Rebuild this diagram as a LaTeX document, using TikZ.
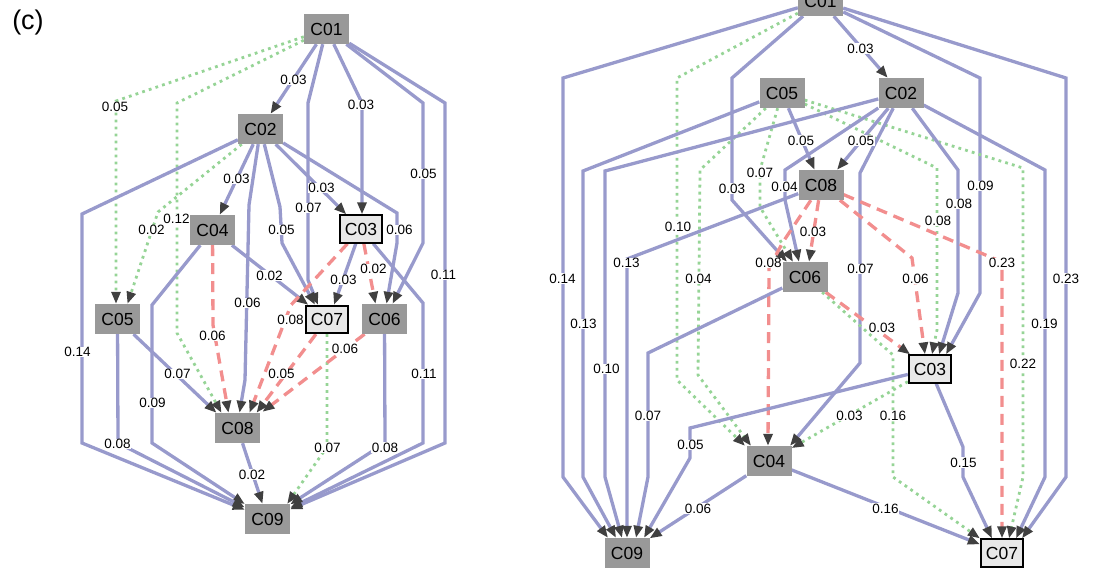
\documentclass[tikz,border=0pt]{standalone}
\usepackage{fontspec}
\setmainfont{Liberation Sans}
\usetikzlibrary{arrows.meta}
\pgfdeclarelayer{edgelayer}
\pgfdeclarelayer{labellayer}
\pgfsetlayers{edgelayer,labellayer,main}
\definecolor{eblue}{RGB}{152,154,204}
\definecolor{egreen}{RGB}{150,212,150}
\definecolor{ered}{RGB}{242,142,142}
\definecolor{agray}{RGB}{64,64,64}
\definecolor{ngray}{RGB}{153,153,153}
\definecolor{nlight}{RGB}{232,232,232}
\begin{document}
\begin{tikzpicture}[x=1pt,y=-1pt,
 >={Triangle[length=12pt,width=9pt,color=agray,fill=agray]},
 gnode/.style={rectangle,fill=ngray,minimum width=45pt,minimum height=30pt,inner sep=0pt,font=\fontsize{17.5pt}{20pt}\selectfont},
 wnode/.style={gnode,fill=nlight,draw=black,line width=1.8pt,minimum width=42.5pt,minimum height=27.5pt},
 soledge/.style={draw=eblue,line width=3.3pt,->},
 dotedge/.style={draw=egreen,line width=2.8pt,dash pattern=on 2.8pt off 4.2pt,->},
 dshedge/.style={draw=ered,line width=3.3pt,dash pattern=on 11pt off 7pt,->},
 lab/.style={fill=white,inner sep=0.6pt,font=\fontsize{13.5pt}{16pt}\selectfont}
]
\useasboundingbox (0,0) rectangle (1109,575);
\node[font=\fontsize{27pt}{30pt}\selectfont] (title) at (28,23) {(c)};

% ---------- left graph nodes
\node[gnode] (L01) at (326.5,29) {C01};
\node[gnode] (L02) at (260.5,129) {C02};
\node[wnode] (L03) at (361,229) {C03};
\node[gnode] (L04) at (212.5,230) {C04};
\node[gnode] (L05) at (117.5,319) {C05};
\node[gnode] (L06) at (384.5,319) {C06};
\node[wnode] (L07) at (327,319.5) {C07};
\node[gnode] (L08) at (237.5,428) {C08};
\node[gnode] (L09) at (267.5,519) {C09};

% ---------- right graph nodes
\node[gnode] (R01) at (820.5,1) {C01};
\node[gnode] (R02) at (901,93) {C02};
\node[wnode] (R03) at (930,369) {C03};
\node[gnode] (R04) at (769,461) {C04};
\node[gnode] (R05) at (782,93) {C05};
\node[gnode] (R06) at (805,277) {C06};
\node[wnode] (R07) at (1002,553) {C07};
\node[gnode] (R08) at (821,185) {C08};
\node[gnode] (R09) at (627,553) {C09};

\begin{pgfonlayer}{edgelayer}
% left edges
\draw[soledge] (L01) -- (L02);
\draw[dotedge] (L01) -- (116,101) -- ([xshift=-1.5pt]L05.north);
\draw[dotedge] (L01) -- (177,103) -- (177,333) -- ([xshift=-16pt]L08.north);
\draw[soledge] (L01) -- (308,103) -- (308,280) -- ([xshift=-9pt]L07.north);
\draw[soledge] (L01) -- (362,103) -- ([xshift=1pt]L03.north);
\draw[soledge] (L01) -- (423,103) -- (423,243) -- ([xshift=8pt]L06.north);
\draw[soledge] (L01) -- (445,103) -- (445,443) -- (L09);

\draw[soledge] (L02) -- (82,214) -- (82,443) -- (L09);
\draw[dotedge] (L02) -- (158,212) -- ([xshift=10pt]L05.north);
\draw[soledge] (L02) -- (L04);
\draw[soledge] (L02) -- (249,205) -- (245,380) -- ([xshift=2pt]L08.north);
\draw[soledge] (L02) -- (280,207) -- (282,243) -- ([xshift=-12pt]L07.north);
\draw[soledge] (L02) -- (L03);
\draw[soledge] (L02) -- (397,213) -- (397,243) -- ([xshift=2pt]L06.north);

\draw[dshedge] (L04) -- (213,325) -- ([xshift=-9pt]L08.north);
\draw[soledge] (L04) -- (152,305) -- (152,443) -- (L09);
\draw[soledge] (L04) -- (L07);

\draw[dshedge] (L03) -- (291,305) -- ([xshift=12pt]L08.north);
\draw[soledge] (L03) -- ([xshift=7pt]L07.north);
\draw[dshedge] (L03) -- ([xshift=-9pt]L06.north);
\draw[soledge] (L03) -- (423,303) -- (423,443) -- (L09);

\draw[soledge] (L05) -- ([xshift=-21pt]L08.north);
\draw[soledge] (L05) -- (118,443) -- (L09);
\draw[dshedge] (L07) -- ([xshift=19pt]L08.north);
\draw[dotedge] (L07) -- (327,447) -- ([xshift=-3pt]L09.north east);
\draw[dshedge] (L06) -- ([xshift=25pt,yshift=1pt]L08.north);
\draw[soledge] (L06) -- (385,443) -- (L09);
\draw[soledge] (L08) -- (L09);

% right edges
\draw[soledge] (R01) -- (R02);
\draw[soledge] (R01) -- (563,78) -- (563,477) -- ([xshift=-19pt]R09.north);
\draw[dotedge] (R01) -- (677,78) -- (677,380) -- ([xshift=-24pt]R04.north);
\draw[soledge] (R01) -- (732,78) -- (732,200) -- ([xshift=-18pt]R06.north);
\draw[soledge] (R01) -- (980,78) -- (980,293) -- ([xshift=16pt]R03.north);
\draw[soledge] (R01) -- (1066,78) -- (1066,477) -- ([xshift=20pt]R07.north);

\draw[soledge] (R05) -- (R08);
\draw[soledge] (R05) -- (583,171) -- (583,477) -- ([xshift=-11pt]R09.north);
\draw[dotedge] (R05) -- (700,170) -- (698,375) -- ([xshift=-18pt]R04.north);
\draw[dotedge] (R05) -- (760,170) -- (760,207) -- ([xshift=-12pt]R06.north);
\draw[dotedge] (R05) -- (937,168) -- (937,330) -- ([xshift=2pt]R03.north);
\draw[dotedge] (R05) -- (1023,168) -- (1023,477) -- ([xshift=7pt]R07.north);

\draw[soledge] (R02) -- (605,171) -- (605,477) -- ([xshift=-5pt]R09.north);
\draw[soledge] (R02) -- ([xshift=16pt]R08.north);
\draw[soledge] (R02) -- (785,170) -- (785,200) -- ([xshift=-6pt]R06.north);
\draw[soledge] (R02) -- (860,173) -- (860,363) -- ([xshift=21pt]R04.north);
\draw[soledge] (R02) -- (958,170) -- (958,293) -- ([xshift=9pt]R03.north);
\draw[soledge] (R02) -- (1045,170) -- (1045,477) -- ([xshift=14pt]R07.north);

\draw[soledge] (R08) -- (627,259) -- (R09.north);
\draw[dshedge] (R08) -- ([xshift=4pt]R06.north);
\draw[dshedge] (R08) -- (783,242) -- (769,268) -- ([xshift=-1pt]R04.north);
\draw[dshedge] (R08) -- (912,258) -- (917,295) -- ([xshift=-5pt]R03.north);
\draw[dshedge] (R08) -- (1002,262) -- (R07.north);

\draw[soledge] (R06) -- (648,353) -- (648,477) -- ([xshift=9pt]R09.north);
\draw[dshedge] (R06) -- (R03);
\draw[dotedge] (R06) -- (893,355) -- (893,477) -- (R07.north west);

\draw[soledge] (R03) -- (690,428) -- (690,458) -- ([xshift=17pt]R09.north);
\draw[dotedge] (R03) -- (R04);
\draw[soledge] (R03) -- (963,447) -- (963,477) -- ([xshift=-10pt]R07.north);

\draw[soledge] (R04) -- (R09);
\draw[soledge] (R04) -- (R07);
\end{pgfonlayer}

\begin{pgfonlayer}{labellayer}
% left labels
\node[lab] (a01) at (293.5,80) {0.03};
\node[lab] (a02) at (115,107) {0.05};
\node[lab] (a03) at (176.5,219) {0.12};
\node[lab] (a04) at (308.5,208) {0.07};
\node[lab] (a05) at (361,105) {0.03};
\node[lab] (a06) at (423.5,174) {0.05};
\node[lab] (a07) at (443.5,275) {0.11};
\node[lab] (a08) at (77.5,352) {0.14};
\node[lab] (a09) at (151.5,230) {0.02};
\node[lab] (a10) at (236.5,179) {0.03};
\node[lab] (a11) at (247.5,303) {0.06};
\node[lab] (a12) at (281.5,230) {0.05};
\node[lab] (a13) at (321.5,188) {0.03};
\node[lab] (a14) at (399.5,230) {0.06};
\node[lab] (a15) at (212.5,335.5) {0.06};
\node[lab] (a16) at (152.5,403) {0.09};
\node[lab] (a17) at (269.5,275.5) {0.02};
\node[lab] (a18) at (290.5,320) {0.08};
\node[lab] (a19) at (343.5,280) {0.03};
\node[lab] (a20) at (373.5,269) {0.02};
\node[lab] (a21) at (424,374) {0.11};
\node[lab] (a22) at (177.5,374) {0.07};
\node[lab] (a23) at (117.5,444) {0.08};
\node[lab] (a24) at (281.5,374) {0.05};
\node[lab] (a25) at (327.5,447.5) {0.07};
\node[lab] (a26) at (345,349) {0.06};
\node[lab] (a27) at (385,447.5) {0.08};
\node[lab] (a28) at (252,474.5) {0.02};
% right labels
\node[lab] (b01) at (860.5,48.5) {0.03};
\node[lab] (b02) at (562.5,278.5) {0.14};
\node[lab] (b03) at (678,226.5) {0.10};
\node[lab] (b04) at (732,188.5) {0.03};
\node[lab] (b05) at (980.5,186) {0.09};
\node[lab] (b06) at (1066,278.5) {0.23};
\node[lab] (b07) at (801,140.5) {0.05};
\node[lab] (b08) at (583.5,324) {0.13};
\node[lab] (b09) at (698.5,278.5) {0.04};
\node[lab] (b10) at (760,172.5) {0.07};
\node[lab] (b11) at (938,221) {0.08};
\node[lab] (b12) at (1023,363.5) {0.22};
\node[lab] (b13) at (606.5,369) {0.10};
\node[lab] (b14) at (861,140.5) {0.05};
\node[lab] (b15) at (784.5,186.5) {0.04};
\node[lab] (b16) at (860.5,269) {0.07};
\node[lab] (b17) at (959,204) {0.08};
\node[lab] (b18) at (1044.5,324) {0.19};
\node[lab] (b19) at (626.5,263) {0.13};
\node[lab] (b20) at (813,232) {0.03};
\node[lab] (b21) at (768.5,263) {0.08};
\node[lab] (b22) at (915.5,278.5) {0.06};
\node[lab] (b23) at (1002,263) {0.23};
\node[lab] (b24) at (648,416) {0.07};
\node[lab] (b25) at (882,327.5) {0.03};
\node[lab] (b26) at (893,416) {0.16};
\node[lab] (b27) at (690.5,445) {0.05};
\node[lab] (b28) at (849.5,416) {0.03};
\node[lab] (b29) at (963.5,462.5) {0.15};
\node[lab] (b30) at (698,508.5) {0.06};
\node[lab] (b31) at (885.5,508.5) {0.16};
\end{pgfonlayer}
\end{tikzpicture}
\end{document}
